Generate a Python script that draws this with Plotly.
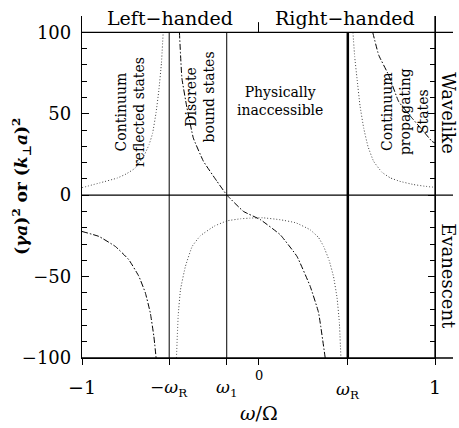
import plotly.graph_objects as go

# ---------------- data ----------------
omega_R = 0.506
omega_1 = -0.18

# dotted curve: three branches
dot_left_x = [-1.0, -0.9, -0.8, -0.75, -0.7, -0.65, -0.62, -0.6, -0.58, -0.565, -0.55, -0.54]
dot_left_y = [4.6, 7.5, 10.5, 13.0, 16.5, 24.0, 31.0, 38.0, 51.0, 64.0, 81.0, 100.0]

dot_mid_x = [-0.465, -0.455, -0.442, -0.414, -0.376, -0.33, -0.25, -0.179, -0.1, -0.047, 0.023, 0.123,
             0.212, 0.293, 0.34, 0.369, 0.4, 0.425, 0.445, 0.458, 0.467]
dot_mid_y = [-100.0, -74.0, -58.0, -43.7, -31.5, -25.0, -19.0, -15.8, -14.5, -14.1, -13.9, -15.1,
             -17.0, -21.3, -26.0, -31.5, -40.0, -50.0, -63.0, -78.0, -100.0]

dot_right_x = [0.535, 0.545, 0.558, 0.575, 0.596, 0.62, 0.652, 0.7, 0.747, 0.8, 0.879, 0.94, 1.0]
dot_right_y = [100.0, 85.0, 71.8, 55.0, 41.2, 30.0, 20.8, 14.0, 10.6, 8.5, 6.5, 5.5, 4.8]

# dash-dot curve: three branches
dd_left_x = [-1.0, -0.905, -0.811, -0.735, -0.678, -0.641, -0.613, -0.593, -0.58]
dd_left_y = [-22.3, -25.3, -31.5, -39.6, -49.8, -60.0, -72.3, -86.6, -100.0]

dd_mid_x = [-0.448, -0.434, -0.406, -0.369, -0.312, -0.236, -0.179, -0.085, 0.01, 0.123, 0.218, 0.293, 0.34, 0.378]
dd_mid_y = [100.0, 71.8, 54.0, 35.0, 20.8, 8.6, 0.0, -10.0, -15.0, -24.3, -37.6, -56.0, -72.0, -100.0]

dd_right_x = [0.647, 0.681, 0.737, 0.794, 0.87, 0.936, 0.983, 1.0]
dd_right_y = [100.0, 86.0, 73.8, 57.5, 47.3, 39.0, 33.0, 32.0]

# axis ticks / labels
y_tickvals = [-100, -50, 0, 50, 100]
y_ticktext = ["\u2212100", "\u221250", "0", "50", "100"]
x_tickvals = [-1, -omega_R, omega_1, 0, omega_R, 1]
x_ticktext = ["\u22121", "\u2212<i>\u03c9</i><sub>R</sub>", "<i>\u03c9</i><sub>1</sub>", "0",
              "<i>\u03c9</i><sub>R</sub>", "1"]
vlines_x = [-omega_R, omega_1, omega_R]
hlines_y = [100, 0, -100]

FONT = "DejaVu Serif"
YMIN, YMAX = -100, 110

fig = go.Figure()

for xs, ys in [(dot_left_x, dot_left_y), (dot_mid_x, dot_mid_y), (dot_right_x, dot_right_y)]:
    fig.add_trace(go.Scatter(x=xs, y=ys, mode="lines",
                             line=dict(color="#444", width=1, dash="1px,2px", shape="spline", smoothing=0.3),
                             showlegend=False, hoverinfo="skip"))
for xs, ys in [(dd_left_x, dd_left_y), (dd_mid_x, dd_mid_y), (dd_right_x, dd_right_y)]:
    fig.add_trace(go.Scatter(x=xs, y=ys, mode="lines",
                             line=dict(color="black", width=1, dash="6px,2px,1.5px,2px", shape="spline",
                                       smoothing=0.3),
                             showlegend=False, hoverinfo="skip"))

# vertical lines
for i, vx in enumerate(vlines_x):
    fig.add_shape(type="line", xref="x", yref="y", x0=vx, x1=vx, y0=-100, y1=100,
                  line=dict(color="black", width=2.5 if i == 2 else 1))

# horizontal lines extending past the right axis
for hy in hlines_y:
    yp = (hy - YMIN) / (YMAX - YMIN)
    fig.add_shape(type="line", xref="paper", yref="paper", x0=0, x1=1.051, y0=yp, y1=yp,
                  line=dict(color="black", width=1.3))

# right spine (drawn explicitly)
fig.add_shape(type="line", xref="paper", yref="paper", x0=1, x1=1, y0=0, y1=1,
              line=dict(color="black", width=1.3))

# divider tick between left/right handed
fig.add_shape(type="line", xref="x", yref="paper", x0=0, x1=0, y0=0.953, y1=0.982,
              line=dict(color="black", width=1))

ann = []
# x tick labels
xl_y = [-0.084, -0.09, -0.09, -0.05, -0.095, -0.084]
xl_size = [19, 17, 17, 13, 17, 19]
for v, t, yy, s in zip(x_tickvals, x_ticktext, xl_y, xl_size):
    ann.append(dict(x=v, y=yy, xref="x", yref="paper", text=t, showarrow=False,
                    font=dict(family=FONT, size=s, color="black"), xanchor="center", yanchor="middle"))
ann.append(dict(x=0, y=-0.161, xref="x", yref="paper", text="<i>\u03c9</i>/\u03a9", showarrow=False,
                font=dict(family=FONT, size=19, color="black"), xanchor="center", yanchor="middle"))
# y title
ann.append(dict(x=-0.17, y=0.503, xref="paper", yref="paper",
                text="<b>(<i>\u03b3a</i>)<sup>2</sup> or (<i>k</i><sub>\u22a5</sub><i>a</i>)<sup>2</sup></b>",
                textangle=-90, showarrow=False, font=dict(family=FONT, size=17, color="black"),
                xanchor="center", yanchor="middle"))
# right labels
ann.append(dict(x=1.038, y=50, xref="paper", yref="y", text="Wavelike", textangle=90, showarrow=False,
                font=dict(family=FONT, size=18, color="black"), xanchor="center", yanchor="middle"))
ann.append(dict(x=1.038, y=-50, xref="paper", yref="y", text="Evanescent", textangle=90, showarrow=False,
                font=dict(family=FONT, size=18, color="black"), xanchor="center", yanchor="middle"))
# top labels
ann.append(dict(x=-0.5, y=0.994, xref="x", yref="paper", text="Left\u2212handed", showarrow=False,
                font=dict(family=FONT, size=19, color="black"), xanchor="center", yanchor="middle"))
ann.append(dict(x=0.49, y=0.994, xref="x", yref="paper", text="Right\u2212handed", showarrow=False,
                font=dict(family=FONT, size=19, color="black"), xanchor="center", yanchor="middle"))
# region labels
reg_font = dict(family=FONT, size=14, color="black")
ann.append(dict(x=-0.728, y=51, xref="x", yref="y", text="Continuum<br>reflected states", textangle=-90,
                showarrow=False, font=reg_font, xanchor="center", yanchor="middle"))
ann.append(dict(x=-0.331, y=60, xref="x", yref="y", text="Discrete<br>bound states", textangle=-90,
                showarrow=False, font=reg_font, xanchor="center", yanchor="middle"))
ann.append(dict(x=0.122, y=58, xref="x", yref="y", text="Physically<br>inaccessible",
                showarrow=False, font=reg_font, xanchor="center", yanchor="middle"))
ann.append(dict(x=0.83, y=51, xref="x", yref="y", text="Continuum<br>propagating<br>States", textangle=-90,
                showarrow=False, font=reg_font, xanchor="center", yanchor="middle"))

fig.update_layout(
    width=459, height=428, margin=dict(l=82, r=24, t=16, b=70),
    paper_bgcolor="white", plot_bgcolor="white",
    annotations=ann, showlegend=False,
    xaxis=dict(range=[-1, 1], showgrid=False, zeroline=False, showline=True, linecolor="black", linewidth=1.3,
               tickmode="array", tickvals=x_tickvals, ticks="outside", ticklen=6, tickcolor="black",
               showticklabels=False),
    yaxis=dict(range=[YMIN, YMAX], showgrid=False, zeroline=False, showline=True, linecolor="black",
               linewidth=1.3, mirror="allticks", tickmode="array", tickvals=y_tickvals, ticktext=y_ticktext,
               ticks="inside", ticklen=7, tickcolor="black", ticklabelstandoff=6,
               tickfont=dict(family=FONT, size=18, color="black"),
               minor=dict(dtick=10, ticks="inside", ticklen=5, tickcolor="black")),
)

fig.write_html("out.html")
